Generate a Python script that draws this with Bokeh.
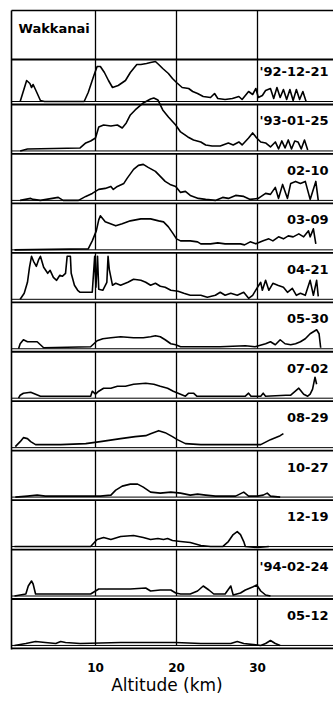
import numpy as np
from bokeh.plotting import figure
from bokeh.models import Range1d, FixedTicker
from bokeh.core.properties import value
from bokeh.embed import file_html
from bokeh.resources import INLINE

# ---------------------------------------------------------------- data
station = "Wakkanai"
dates = ["'92-12-21", "'93-01-25", "02-10", "03-09", "04-21", "05-30",
         "07-02", "08-29", "10-27", "12-19", "'94-02-24", "05-12"]
grid_km = [10, 20, 30]

# aerosol backscatter profiles: altitude (km) and relative signal
alt_921221 = [0.7, 1.5, 1.9, 2.1, 2.3, 2.7, 3.2, 3.7, 8.6, 9.1, 9.8, 10.2, 10.6, 11.1, 11.6, 12.1,
              12.8, 13.7, 14.3, 15.1, 15.6, 16.3, 16.8, 17.4, 17.8, 18.3, 19.0, 19.5, 20.0, 20.7,
              21.5, 22.0, 22.6, 23.3, 24.2, 24.7, 25.1, 26.0, 26.9, 27.7, 28.1, 28.9, 29.4, 29.8,
              30.1, 30.6, 31.0, 31.6, 32.0, 32.4, 32.8, 33.2, 33.6, 34.0, 34.4, 34.8, 35.2, 35.6, 36.0]
val_921221 = [0, 21, 18, 14, 17, 10, 1, 0, 0, 9, 26, 35, 35, 29, 21, 14,
              16, 21, 29, 37, 37, 38, 39, 40, 37, 33, 28, 23, 19, 14,
              13, 10, 8, 5, 4, 8, 3, 2, 3, 5, 2, 10, 7, 13,
              4, 6, 11, 13, 3, 14, 4, 12, 2, 12, 1, 12, 2, 10, 0]

alt_930125 = [0.7, 1.6, 8.1, 8.8, 9.4, 10.0, 10.4, 11.0, 11.9, 12.7, 13.3, 13.8, 14.3, 14.9, 15.9,
              16.8, 17.2, 17.7, 18.3, 19.0, 19.9, 20.5, 21.4, 22.1, 23.0, 23.6, 24.4, 25.4, 26.4,
              27.0, 27.7, 28.1, 28.9, 29.4, 29.9, 30.4, 31.0, 31.6, 32.2, 32.6, 33.0, 33.4, 33.8,
              34.2, 34.6, 35.0, 35.4, 35.8, 36.2]
val_930125 = [0, 2, 3, 8, 10, 13, 24, 26, 25, 26, 23, 28, 36, 41, 48,
              52, 53, 51, 41, 34, 26, 19, 14, 11, 9, 6, 5, 5, 8,
              6, 9, 6, 13, 18, 13, 9, 8, 4, 9, 2, 10, 3, 11,
              2, 10, 9, 2, 11, 1]

alt_930210 = [0.7, 2.0, 2.3, 3.2, 5.4, 6.0, 7.9, 8.8, 9.6, 10.4, 11.2, 11.9, 12.2, 12.7, 13.5, 13.9,
              14.7, 15.3, 15.9, 16.5, 17.4, 18.0, 18.6, 19.2, 19.9, 20.5, 21.1, 21.7, 22.7, 23.6,
              24.8, 25.7, 26.4, 27.3, 28.3, 29.1, 30.1, 31.0, 31.6, 32.2, 32.6, 33.1, 33.7, 34.1,
              34.7, 35.3, 35.9, 36.5, 37.2, 37.5]
val_930210 = [0, 2, 1, 0, 3, 0, 0, 4, 7, 11, 12, 14, 11, 14, 17, 22,
              31, 35, 36, 33, 29, 24, 19, 16, 14, 8, 9, 5, 2, 1,
              0, 3, 2, 5, 4, 1, 2, 7, 6, 13, 2, 16, 2, 17,
              19, 17, 19, 1, 19, 0]

alt_930309 = [0.0, 9.1, 9.6, 10.1, 10.4, 10.6, 11.2, 12.5, 13.3, 14.3, 15.6, 16.8, 17.8, 18.4, 19.0,
              19.6, 20.0, 20.5, 21.7, 22.6, 23.0, 24.2, 25.1, 26.0, 27.0, 27.9, 28.4, 29.1, 29.8,
              30.7, 31.4, 31.9, 32.6, 33.2, 33.8, 34.4, 35.1, 35.7, 36.3, 36.5, 36.9, 37.2]
val_930309 = [0, 1, 9, 19, 30, 34, 28, 24, 26, 29, 31, 31, 29, 28, 23,
              16, 11, 9, 9, 8, 6, 6, 7, 6, 6, 6, 5, 8, 6,
              9, 11, 9, 13, 11, 14, 13, 16, 13, 19, 13, 21, 6]

alt_930421 = [0.7, 1.2, 1.6, 1.85, 2.1, 2.35, 2.7, 3.0, 3.2, 3.6, 4.1, 4.4, 4.8, 5.2, 5.6, 5.9,
              6.3, 6.5, 6.9, 7.0, 7.4, 7.8, 8.1, 9.6, 9.9, 10.05, 10.25, 10.4, 10.9, 11.4, 11.55,
              11.7, 12.1, 12.5, 13.1, 14.0, 14.7, 15.6, 16.2, 16.8, 17.4, 18.0, 18.6, 19.3, 20.2,
              20.9, 21.7, 23.0, 23.8, 24.8, 25.4, 26.0, 26.7, 27.5, 28.3, 28.9, 29.4, 30.0, 30.4,
              30.6, 31.0, 31.4, 31.9, 32.5, 33.2, 33.7, 34.3, 34.8, 35.3, 35.9, 36.5, 36.9, 37.3, 37.5]
val_930421 = [0, 6, 17, 32, 43, 38, 33, 40, 43, 32, 26, 29, 22, 19, 24, 23,
              26, 43, 43, 26, 14, 9, 7, 7, 43, 12, 43, 10, 9, 17, 43,
              30, 14, 16, 14, 17, 20, 19, 17, 14, 16, 13, 12, 9, 8,
              6, 4, 4, 2, 4, 7, 4, 6, 4, 7, 1, 4, 12, 17,
              9, 19, 9, 16, 14, 12, 7, 11, 4, 6, 4, 19, 4, 19, 3]

alt_930530 = [0.5, 0.7, 1.1, 1.6, 2.2, 2.8, 3.2, 3.6, 9.4, 9.8, 10.2, 10.9, 11.9, 13.1, 14.7, 15.9,
              16.8, 17.4, 18.0, 18.6, 19.3, 19.9, 20.5, 23.0, 25.4, 28.5, 29.7, 31.0, 31.6, 32.2,
              32.8, 33.4, 34.1, 34.7, 35.3, 35.9, 36.5, 36.9, 37.3, 37.6, 37.8]
val_930530 = [0, 5, 9, 7, 7, 7, 4, 1, 2, 5, 8, 10, 11, 12, 11, 11,
              12, 13, 12, 9, 5, 4, 2, 2, 2, 3, 2, 5, 7, 4,
              9, 5, 4, 5, 7, 10, 15, 17, 19, 15, 1]

alt_930702 = [0.5, 0.7, 1.1, 2.0, 2.6, 3.2, 9.4, 9.6, 10.0, 10.4, 11.0, 11.9, 12.7, 13.7, 14.7, 16.2,
              17.2, 18.0, 18.9, 19.6, 20.5, 21.1, 21.5, 22.1, 22.5, 28.5, 28.9, 29.2, 30.4, 30.7,
              31.0, 33.5, 34.1, 35.1, 35.7, 36.2, 36.5, 36.8, 37.1, 37.3]
val_930702 = [0, 3, 5, 6, 4, 2, 2, 7, 4, 7, 10, 10, 12, 12, 14, 15,
              14, 12, 10, 7, 4, 2, 5, 5, 2, 2, 5, 2, 2, 5,
              2, 3, 3, 10, 4, 2, 4, 9, 21, 14]

alt_930829 = [0.1, 0.7, 1.1, 1.6, 2.0, 2.6, 5.7, 8.8, 10.6, 13.1, 14.9, 16.2, 16.8, 17.8, 18.6,
              19.5, 20.1, 21.1, 23.0, 25.4, 29.8, 30.4, 31.6, 32.8, 33.2]
val_930829 = [1, 6, 10, 9, 6, 3, 3, 4, 6, 9, 11, 12, 14, 17, 15,
              11, 8, 4, 3, 3, 3, 3, 8, 12, 14]

alt_931027 = [0.1, 1.6, 2.8, 3.8, 10.6, 11.9, 12.5, 13.3, 14.3, 15.2, 15.9, 16.8, 18.0, 19.3,
              20.5, 21.7, 22.6, 23.6, 24.8, 27.3, 28.3, 28.9, 30.0, 30.7, 31.2, 31.6, 32.8]
val_931027 = [0, 1, 2, 1, 1, 2, 7, 11, 13, 13, 10, 5, 4, 5,
              4, 2, 3, 2, 1, 1, 5, 1, 1, 2, 4, 1, 0]

alt_931219 = [0.0, 1.4, 9.4, 10.2, 11.0, 11.9, 13.1, 14.7, 15.9, 16.8, 17.7, 18.4, 18.9, 19.5,
              20.5, 21.7, 23.0, 24.2, 25.7, 26.4, 27.0, 27.5, 27.9, 28.3, 28.5, 30.0, 31.4]
val_931219 = [0, 0, 0, 7, 9, 7, 10, 11, 9, 7, 8, 7, 8, 6,
              5, 4, 1, 0, 0, 5, 12, 15, 12, 5, 0, -1, 0]

alt_940224 = [0.0, 1.4, 1.7, 2.1, 2.3, 2.6, 3.2, 5.7, 9.4, 10.0, 10.4, 11.9, 14.3, 16.2, 16.8,
              18.0, 19.3, 19.9, 20.5, 21.7, 22.6, 23.3, 24.0, 24.6, 26.0, 26.7, 27.0, 27.9, 28.5,
              29.4, 29.9, 30.4, 31.0, 31.6]
val_940224 = [0, 2, 10, 15, 12, 2, 2, 2, 2, 5, 7, 7, 7, 8, 5,
              6, 6, 3, 2, 2, 5, 10, 6, 2, 2, 10, 1, 3, 6,
              9, 11, 5, 1, 0]

alt_940512 = [0.0, 1.4, 2.6, 3.8, 5.1, 5.7, 6.3, 8.1, 13.1, 19.9, 23.0, 26.7, 27.5, 28.3, 30.4,
              31.0, 31.6, 32.2, 32.8]
val_940512 = [0, 2, 4, 3, 2, 4, 3, 2, 3, 3, 2, 2, 4, 2, 0,
              2, 5, 2, 0]

profiles = [
    (alt_921221, val_921221), (alt_930125, val_930125), (alt_930210, val_930210),
    (alt_930309, val_930309), (alt_930421, val_930421), (alt_930530, val_930530),
    (alt_930702, val_930702), (alt_930829, val_930829), (alt_931027, val_931027),
    (alt_931219, val_931219), (alt_940224, val_940224), (alt_940512, val_940512),
]

# ---------------------------------------------------------------- layout
W, H = 333, 702
FRAME_H = 650          # plot frame height in px; the rest holds the axis
KM0_PX = 14.0          # pixel column of 0 km
PX_PER_KM = 8.1
FRAME_TOP_PX = 10      # outer border
HEADER_BOTTOM_PX = 59  # bottom of the station header strip
BASE0_PX = 101.0       # baseline of first strip
STRIP_PX = 49.45       # vertical pitch of strips
DIV_GAP_PX = 3.0       # gap between baseline and strip divider
LEFT_PX = 11.0
LABEL_RISE_PX = 30     # date label height above the strip baseline
LABEL_RIGHT_PX = 328


def km(px):
    return (px - KM0_PX) / PX_PER_KM


def yd(py):
    return FRAME_H - py


p = figure(width=W, height=H, output_backend="svg", toolbar_location=None,
           x_range=Range1d(km(0), km(W)), y_range=Range1d(0, FRAME_H),
           y_axis_location=None, min_border_left=0, min_border_right=0,
           min_border_top=0, min_border_bottom=H - FRAME_H)
p.outline_line_color = None
p.xgrid.visible = False
p.ygrid.visible = False
p.background_fill_color = "white"

bases = [BASE0_PX + i * STRIP_PX for i in range(len(dates))]
tops = [HEADER_BOTTOM_PX] + [b + DIV_GAP_PX for b in bases[:-1]]

x_left, x_right = km(LEFT_PX), km(W)

# outer border and strip dividers
p.segment(x0=[x_left], y0=[yd(FRAME_TOP_PX)], x1=[x_right], y1=[yd(FRAME_TOP_PX)],
          line_color="black", line_width=1.6)
p.segment(x0=[x_left], y0=[yd(FRAME_TOP_PX)], x1=[x_left], y1=[yd(bases[-1] + DIV_GAP_PX + 1)],
          line_color="black", line_width=1.6)
div_y = [yd(HEADER_BOTTOM_PX)] + [yd(b + DIV_GAP_PX) for b in bases]
p.segment(x0=[x_left] * len(div_y), y0=div_y, x1=[x_right] * len(div_y), y1=div_y,
          line_color="black", line_width=1.8)
base_y = [yd(b) for b in bases]
p.segment(x0=[x_left] * len(base_y), y0=base_y, x1=[x_right] * len(base_y), y1=base_y,
          line_color="black", line_width=1.0)

# vertical altitude markers in header and each strip
gx0, gy0, gy1 = [], [], []
for top, bot in [(FRAME_TOP_PX, HEADER_BOTTOM_PX)] + list(zip(tops, bases)):
    for g in grid_km:
        gx0.append(g)
        gy0.append(yd(top))
        gy1.append(yd(bot))
p.segment(x0=gx0, y0=gy0, x1=gx0, y1=gy1, line_color="black", line_width=1.3)

# profiles
for (alt, val), b in zip(profiles, bases):
    assert len(alt) == len(val)
    y = yd(b) + np.asarray(val, dtype=float)
    p.line(alt, y, line_color="black", line_width=1.6, line_join="round")

# strip labels
p.text(x=[km(LABEL_RIGHT_PX)] * len(dates), y=[yd(b - LABEL_RISE_PX) for b in bases],
       text=dates, text_align="right", text_baseline="middle",
       text_font=value("DejaVu Sans"), text_font_style="bold", text_font_size="13px",
       text_color="black")
p.text(x=[km(18)], y=[yd(28)], text=[station], text_align="left", text_baseline="middle",
       text_font=value("DejaVu Sans"), text_font_style="bold", text_font_size="13px",
       text_color="black")

# altitude axis
ax = p.xaxis[0]
ax.ticker = FixedTicker(ticks=grid_km)
ax.axis_line_color = None
ax.major_tick_line_color = None
ax.minor_tick_line_color = None
ax.major_label_standoff = 6
ax.major_label_text_font = "DejaVu Sans"
ax.major_label_text_font_style = "bold"
ax.major_label_text_font_size = "12px"
ax.major_label_text_color = "black"
ax.axis_label = "Altitude (km)"
ax.axis_label_text_font = "DejaVu Sans"
ax.axis_label_text_font_style = "normal"
ax.axis_label_text_font_size = "17px"
ax.axis_label_text_color = "black"
ax.axis_label_standoff = 0

open("out.html", "w").write(file_html(p, INLINE))
